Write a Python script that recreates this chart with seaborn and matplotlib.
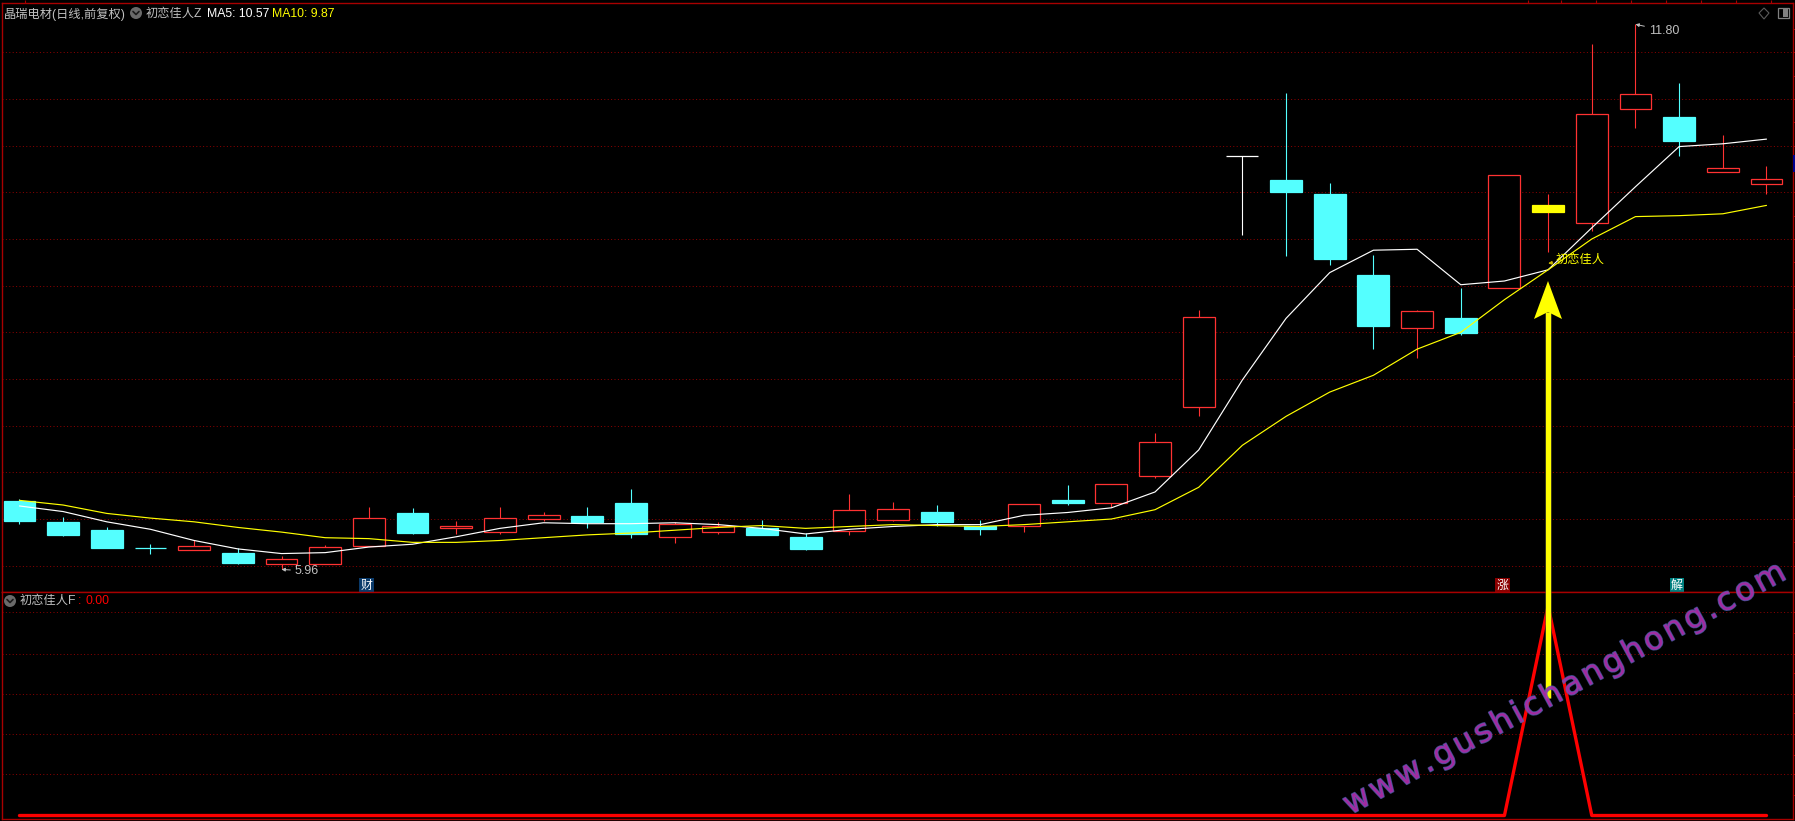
import matplotlib
matplotlib.use("Agg")
import matplotlib.pyplot as plt
import matplotlib.patheffects as pe
from matplotlib.patches import Circle, Polygon, Rectangle
import numpy as np
import seaborn as sns

# daily bars
open_p = [6.69, 6.47, 6.38, 6.19, 6.17, 6.14, 6.02, 6.02, 6.21, 6.56, 6.40, 6.36, 6.50, 6.53,
          6.67, 6.31, 6.36, 6.40, 6.31, 6.37, 6.49, 6.57, 6.42, 6.43, 6.70, 6.67, 6.96, 7.70,
          10.39, 10.13, 9.98, 9.11, 8.55, 8.65, 8.98, 9.79, 9.67, 10.89, 10.81, 10.22, 10.09]
close_p = [6.48, 6.33, 6.19, 6.19, 6.21, 6.03, 6.07, 6.20, 6.51, 6.35, 6.42, 6.51, 6.54, 6.47,
           6.34, 6.45, 6.42, 6.33, 6.18, 6.60, 6.61, 6.47, 6.39, 6.66, 6.67, 6.87, 7.33, 8.66,
           10.39, 10.00, 9.29, 8.57, 8.73, 8.49, 10.19, 9.86, 10.84, 11.05, 10.55, 10.26, 10.14]
high_p = [6.71, 6.52, 6.41, 6.23, 6.28, 6.19, 6.10, 6.22, 6.63, 6.62, 6.48, 6.63, 6.57, 6.63,
          6.82, 6.47, 6.47, 6.49, 6.35, 6.77, 6.68, 6.65, 6.49, 6.66, 6.86, 6.87, 7.42, 8.74,
          10.39, 11.06, 10.10, 9.33, 8.74, 8.97, 10.19, 9.98, 11.59, 11.80, 11.17, 10.61, 10.28]
low_p = [6.45, 6.32, 6.19, 6.12, 6.17, 6.02, 5.96, 6.02, 6.21, 6.34, 6.34, 6.34, 6.48, 6.40,
         6.30, 6.24, 6.34, 6.33, 6.17, 6.33, 6.48, 6.43, 6.33, 6.36, 6.65, 6.63, 6.94, 7.60,
         9.54, 9.32, 9.22, 8.32, 8.22, 8.47, 8.98, 9.36, 9.59, 10.69, 10.39, 10.22, 9.98]
ma5 = [6.64, 6.58, 6.47, 6.39, 6.27, 6.18, 6.13, 6.14, 6.20, 6.23, 6.31, 6.40, 6.46, 6.45,
       6.45, 6.46, 6.44, 6.40, 6.34, 6.39, 6.42, 6.44, 6.44, 6.54, 6.57, 6.62, 6.79, 7.24,
       7.99, 8.65, 9.14, 9.38, 9.39, 9.01, 9.05, 9.17, 9.62, 10.06, 10.49, 10.52, 10.57]
ma10 = [6.70, 6.65, 6.56, 6.51, 6.47, 6.41, 6.36, 6.30, 6.29, 6.25, 6.25, 6.27, 6.30, 6.33,
        6.35, 6.38, 6.41, 6.43, 6.40, 6.42, 6.44, 6.43, 6.42, 6.44, 6.47, 6.50, 6.60, 6.84,
        7.29, 7.60, 7.86, 8.04, 8.32, 8.50, 8.85, 9.17, 9.50, 9.74, 9.75, 9.77, 9.86]
signal_f = [0] * 35 + [1] + [0] * 5
bar_no = list(range(len(open_p)))

price_grid = [6.0, 6.5, 7.0, 7.5, 8.0, 8.5, 9.0, 9.5, 10.0, 10.5, 11.0, 11.5]
price_minor = [6.25, 6.75, 7.25, 7.75, 8.25, 8.75, 9.25, 9.75, 10.25, 10.75, 11.25, 11.75]
signal_grid = [0.20, 0.39, 0.58, 0.77, 0.97]
signal_minor = [0.10, 0.29, 0.49, 0.68, 0.87]

BG = "black"
FRAME = "#a80000"
GRID = "#8a0000"
RED = "#ff3232"
CYAN = "#54ffff"
LABEL = "#c0c0c0"
YELLOW = "#ffff00"
DOTS = (0, (1, 2.4))
FONTS = ["Liberation Sans", "Noto Sans CJK SC", "DejaVu Sans"]

sns.set_theme(style="dark", rc={"axes.facecolor": BG, "figure.facecolor": BG})
plt.rcParams["font.family"] = FONTS

W, H = 1795, 821
fig = plt.figure(figsize=(W / 100, H / 100), dpi=100)
ax = fig.add_axes([2 / W, (H - 592.3) / H, 1790.7 / W, 589 / H])
ax2 = fig.add_axes([2 / W, (H - 819.3) / H, 1790.7 / W, 227 / H])

# candles
for i in bar_no:
    o, c = open_p[i], close_p[i]
    body = RED if c > o else CYAN
    wick = body
    if i == 28:
        body = wick = "white"
    if i == 35:
        body = YELLOW
        wick = RED
    fill = BG if c > o and i != 35 else body
    ax.vlines(i, low_p[i], high_p[i], color=wick, lw=0.8, zorder=2, snap=True)
    ax.bar(i, abs(c - o), bottom=min(o, c), width=0.73, facecolor=fill, edgecolor=body,
           linewidth=0.9, zorder=3)

sns.lineplot(x=bar_no, y=ma5, color="white", lw=0.85, ax=ax, zorder=4)
sns.lineplot(x=bar_no, y=ma10, color=YELLOW, lw=0.85, ax=ax, zorder=5)
sns.lineplot(x=bar_no, y=signal_f, color="#ff0000", lw=2.4, ax=ax2, zorder=4)

ax.set_xlim(-0.40, 40.6)
ax.set_ylim(5.715, 12.025)
ax2.set_xlim(-0.40, 40.6)
ax2.set_ylim(-0.018, 1.065)

for a, major, minor in [(ax, price_grid, price_minor), (ax2, signal_grid, signal_minor)]:
    a.set(xlabel="", ylabel="", xticks=[])
    a.set_yticks(major)
    a.set_yticks(minor, minor=True)
    a.yaxis.tick_right()
    a.tick_params(axis="y", which="both", labelright=False, left=False, right=True,
                  direction="out", length=1.8, width=0.72, color=FRAME)
    a.grid(axis="y", which="major", color=GRID, ls=DOTS, lw=0.72)
    a.set_axisbelow(True)
    for s in a.spines.values():
        s.set_color(FRAME)
        s.set_linewidth(1.0)

# value tags on the candles
tag_arrow = dict(arrowstyle="-|>", color=LABEL, lw=0.7, mutation_scale=5, shrinkA=1, shrinkB=0)
ax.annotate("11.80", xy=(37, 11.80), xytext=(1649, H - 30.5), textcoords="figure pixels",
            color=LABEL, fontsize=9, va="center", arrowprops=tag_arrow)
ax.annotate("5.96", xy=(6, 5.96), xytext=(295, H - 571), textcoords="figure pixels",
            color=LABEL, fontsize=9, va="center", arrowprops=tag_arrow)
ax.annotate("初恋佳人", xy=(35, 9.24), xytext=(1556, H - 260), textcoords="figure pixels",
            color=YELLOW, fontsize=8.8, va="center", zorder=7,
            arrowprops=dict(arrowstyle="-|>", color="#c8b400", lw=0.8, mutation_scale=5,
                            shrinkA=0, shrinkB=0))

# event badges
for i, txt, col in [(8, "财", "#0a3a6a"), (34, "涨", "#8b0000"), (38, "解", "#008080")]:
    ax.text(i - 0.05, 5.785, txt, color="white", fontsize=8.6, ha="center", va="center", zorder=6,
            bbox=dict(facecolor=col, edgecolor="none", pad=1.0))

# overlay in screen pixels: titles, icons, arrow, watermark
top = fig.add_axes([0, 0, 1, 1], facecolor="none")
top.set_xlim(0, W)
top.set_ylim(H, 0)
top.axis("off")

top.text(4, 14, "晶瑞电材(日线,前复权)", color=LABEL, fontsize=8.8, va="center")
top.text(146, 14, "初恋佳人Z", color=LABEL, fontsize=8.8, va="center")
top.text(207, 14, "MA5: 10.57", color="white", fontsize=8.8, va="center")
top.text(272, 14, "MA10: 9.87", color=YELLOW, fontsize=8.8, va="center")
top.text(20, 601, "初恋佳人F", color=LABEL, fontsize=8.8, va="center")
top.text(78, 601, ":", color="#ff0000", fontsize=8.8, va="center")
top.text(86, 601, "0.00", color="#ff0000", fontsize=8.8, va="center")

for cx, cy in [(136, 13), (10, 601)]:
    top.add_patch(Circle((cx, cy), 6, facecolor="#6a6a6a", edgecolor="none"))
    top.plot([cx - 3, cx, cx + 3], [cy - 1.5, cy + 1.5, cy - 1.5], color="#1c1c1c", lw=1.2)

top.add_patch(Polygon([(1764, 8), (1769, 13), (1764, 19), (1759, 13)], fill=False,
                      edgecolor="#5a5a5a", lw=0.8))
top.add_patch(Rectangle((1777.5, 8), 11, 10, fill=False, edgecolor="#808080", lw=0.9))
top.add_patch(Rectangle((1783, 9), 4.5, 8, facecolor="#808080", edgecolor="none"))
top.add_patch(Rectangle((1793, 155), 2, 17, facecolor="#000090", edgecolor="none"))
top.vlines([25, 1528, 1561, 1596, 1631, 1666, 1701, 1736, 1771], 0, 3, color=FRAME, lw=0.8)

shadow = [pe.Stroke(linewidth=4.8, foreground="#3a3a3a", alpha=0.6), pe.Normal()]
top.plot([1547.6, 1547.6], [698, 312], color=YELLOW, lw=3.8, solid_capstyle="butt",
         path_effects=shadow, zorder=8)
top.add_patch(Polygon([(1548, 281), (1562, 319), (1548, 312), (1534, 319)], facecolor=YELLOW,
                      edgecolor="none", zorder=9))

# watermark, set letter by letter for its wide tracking
mark = "www.gushichanghong.com"
x0, y0, x1, y1 = 1350, 815, 1788, 578
mark_size = 23
length = np.hypot(x1 - x0, y1 - y0)
angle = np.arctan2(y0 - y1, x1 - x0)
renderer = fig.canvas.get_renderer()
widths = []
for ch in mark:
    probe = top.text(0, 0, ch, fontsize=mark_size, family="DejaVu Sans")
    widths.append(probe.get_window_extent(renderer).width)
    probe.remove()
gap = (length - sum(widths)) / (len(mark) - 1)
pos = 0
for ch, w in zip(mark, widths):
    top.text(x0 + pos * np.cos(angle), y0 - pos * np.sin(angle), ch, color="#b02aa8", alpha=0.7,
             fontsize=mark_size, rotation=np.degrees(angle), rotation_mode="anchor", ha="left",
             va="baseline", family="DejaVu Sans", zorder=10,
             path_effects=[pe.Stroke(linewidth=1.2, foreground="#5060b0", alpha=0.8), pe.Normal()])
    pos += w + gap

fig.savefig("out.png", dpi=100, facecolor=BG)
